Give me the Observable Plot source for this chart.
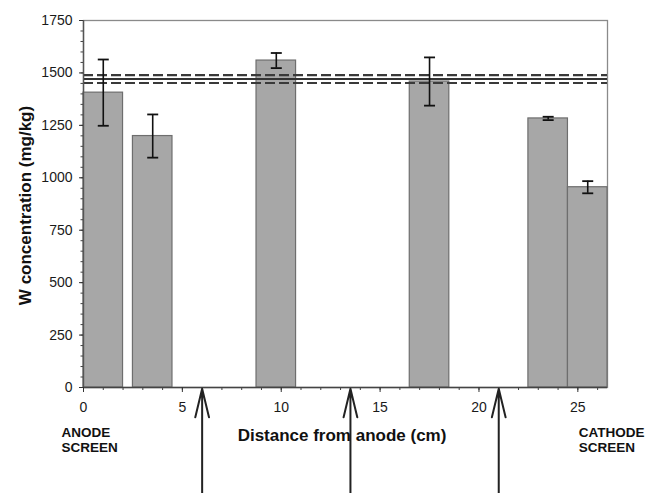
<!DOCTYPE html>
<html><head><meta charset="utf-8">
<script src="https://cdn.jsdelivr.net/npm/d3@7"></script>
<script src="https://cdn.jsdelivr.net/npm/@observablehq/plot@0.6"></script>
<style>html,body{margin:0;padding:0;background:#fff;overflow:hidden}</style>
</head><body><div id="chart"></div>
<script>
// Data
const barStart = [0, 2.5, 8.75, 16.5, 22.5, 24.5];
const barEnd = [2, 4.5, 10.75, 18.5, 24.5, 26.5];
const concentration = [1406, 1199, 1559, 1459, 1283, 955];
const errorSize = [158, 103, 36, 115, 8, 29];
const meanLine = [1471];
const bandLines = [1490, 1452];
const arrowPositions = [6, 13.5, 21];
const xTickValues = [0, 5, 10, 15, 20, 25];
const yTickValues = [0, 250, 500, 750, 1000, 1250, 1500, 1750];
const xTitle = ["Distance from anode (cm)"];
const yTitle = ["W concentration (mg/kg)"];
const anodeLabel = ["ANODE\nSCREEN"];
const cathodeLabel = ["CATHODE\nSCREEN"];

const rows = barStart.map((s, i) => ({
  x1: s, x2: barEnd[i], xc: (s + barEnd[i]) / 2,
  y: concentration[i], e: errorSize[i]
}));

const capSymbol = {
  draw(ctx, size) {
    const h = Math.sqrt(size / Math.PI);
    ctx.moveTo(-h, 0); ctx.lineTo(h, 0);
  }
};

const font = "Liberation Sans, Arial, Helvetica, sans-serif";

const chart = Plot.plot({
  width: 653,
  height: 493,
  marginLeft: 83,
  marginRight: 46,
  marginTop: 20,
  marginBottom: 106,
  style: {fontFamily: font, fontSize: "14px", color: "#1a1a1a", background: "white"},
  x: {domain: [0, 26.5]},
  y: {domain: [0, 1750]},
  marks: [
    Plot.frame({stroke: "#8a8a8a", strokeWidth: 1.3}),
    Plot.rect(rows, {x1: "x1", x2: "x2", y1: 0, y2: "y", fill: "#a7a7a7", stroke: "#6e6e6e", strokeWidth: 1.2}),
    Plot.ruleY(bandLines, {stroke: "#3a3a3a", strokeWidth: 2.2, strokeDasharray: "10,4"}),
    Plot.ruleY(meanLine, {stroke: "#333", strokeWidth: 2}),
    Plot.ruleX(rows, {x: "xc", y1: d => d.y - d.e, y2: d => d.y + d.e, stroke: "#111", strokeWidth: 1.6}),
    Plot.dot(rows, {x: "xc", y: d => d.y + d.e, symbol: capSymbol, r: 5.5, stroke: "#111", strokeWidth: 1.8, fill: "none"}),
    Plot.dot(rows, {x: "xc", y: d => d.y - d.e, symbol: capSymbol, r: 5.5, stroke: "#111", strokeWidth: 1.8, fill: "none"}),
    Plot.ruleX([0], {stroke: "#555", strokeWidth: 1.4}),
    Plot.ruleY([0], {stroke: "#444", strokeWidth: 1.4}),
    Plot.axisY(d3.range(0, 1751, 50), {tickSize: 2.5, tickFormat: () => "", label: null, stroke: "#444"}),
    Plot.axisY(yTickValues, {tickSize: 4, tickPadding: 7, tickFormat: d => String(d), label: null, stroke: "#333", fill: "#1a1a1a", fontSize: 14}),
    Plot.axisX(d3.range(0, 27, 1), {tickSize: 3, tickFormat: () => "", label: null, stroke: "#444"}),
    Plot.axisX(xTickValues, {tickSize: 5, tickPadding: 10, tickFormat: d => String(d), label: null, stroke: "#333", fill: "#1a1a1a", fontSize: 14}),
    Plot.arrow(arrowPositions, {x1: d => d, x2: d => d, y1: -560, y2: -6, headAngle: 27, headLength: 22, stroke: "#222", strokeWidth: 2}),
    Plot.text(xTitle, {frameAnchor: "bottom", lineAnchor: "middle", textAnchor: "middle", dy: 48, dx: -3.5, fontWeight: "bold", fontSize: 17, fill: "#111"}),
    Plot.text(yTitle, {frameAnchor: "left", lineAnchor: "middle", textAnchor: "middle", rotate: -90, dx: -57.5, dy: 1.5, fontWeight: "bold", fontSize: 17, fill: "#111"}),
    Plot.text(anodeLabel, {x: 0, frameAnchor: "bottom", lineAnchor: "middle", dy: 52, dx: -22, textAnchor: "start", lineHeight: 1.15, fontWeight: "bold", fontSize: 13.5, fill: "#111"}),
    Plot.text(cathodeLabel, {x: 25, frameAnchor: "bottom", lineAnchor: "middle", dy: 52, dx: 1, textAnchor: "start", lineHeight: 1.15, fontWeight: "bold", fontSize: 13.5, fill: "#111"})
  ]
});
document.getElementById("chart").appendChild(chart);
</script>
</body></html>
